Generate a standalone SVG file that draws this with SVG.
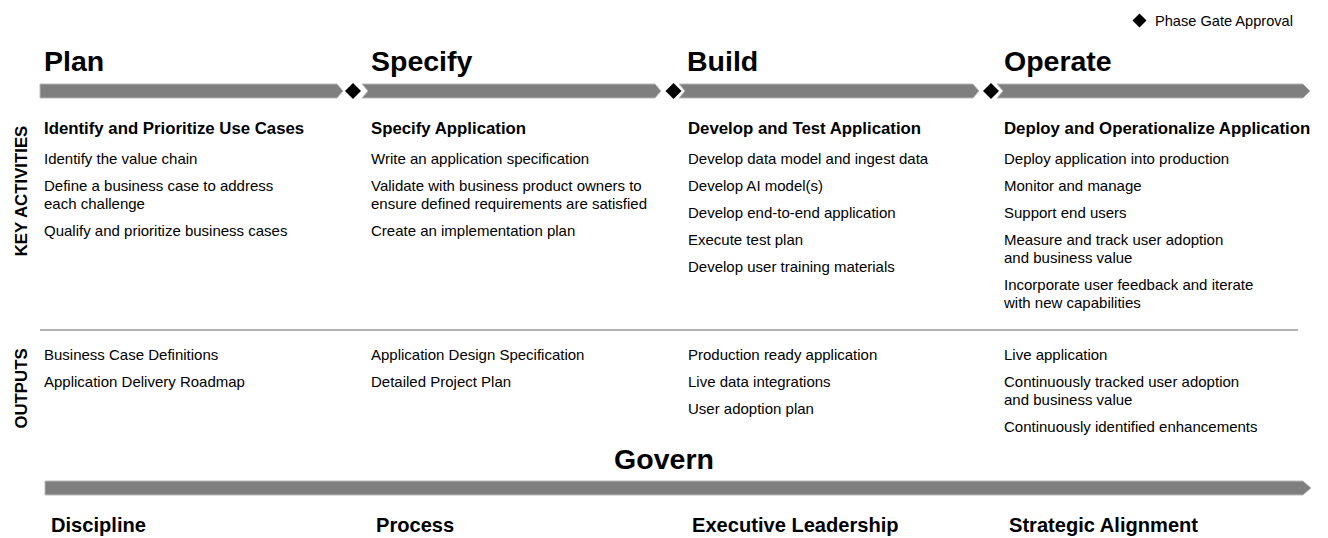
<svg xmlns="http://www.w3.org/2000/svg" width="1328" height="538" viewBox="0 0 1328 538">
<style>
text{font-family:"Liberation Sans",Arial,sans-serif;fill:#000}
.title{font-size:28.5px;font-weight:bold}
.head{font-size:16.8px;font-weight:bold}
.body{font-size:15px}
.side{font-size:16.8px;font-weight:bold}
.pillar{font-size:20.1px;font-weight:bold}
.legend{font-size:14.6px}
.bar{fill:#7f7f7f;stroke:#b8b8b8;stroke-width:1}
.gate{fill:#000}
.sep{stroke:#999;stroke-width:1.5}
</style>
<rect width="1328" height="538" fill="#fff"/>

<g id="legend">
<polygon class="gate" points="1139.5,13.5 1146.5,20.5 1139.5,27.5 1132.5,20.5"/>
<text class="legend" x="1155" y="25.5">Phase Gate Approval</text>
</g>

<g id="connectors">
<polygon class="bar" points="40,84 337,84 343,91 337,98 40,98"/>
<polygon class="bar" points="362,84 655,84 661,91 655,98 362,98 368,91"/>
<polygon class="bar" points="679,84 973,84 979,91 973,98 679,98 685,91"/>
<polygon class="bar" points="997,84 1303,84 1310,91 1303,98 997,98 1003,91"/>
<polygon class="gate" points="353,83 361,91 353,99 345,91"/>
<polygon class="gate" points="673.5,83 681.5,91 673.5,99 665.5,91"/>
<polygon class="gate" points="991,83 999,91 991,99 983,91"/>
<line class="sep" x1="40" y1="330" x2="1298" y2="330"/>
<polygon class="bar" points="45,481 1303,481 1311,488 1303,495 45,495"/>
</g>

<g id="side-labels">
<text class="side" transform="translate(27,191) rotate(-90)" text-anchor="middle">KEY ACTIVITIES</text>
<text class="side" transform="translate(27,388.5) rotate(-90)" text-anchor="middle">OUTPUTS</text>
</g>

<g id="phase-plan">
<text class="title" x="44" y="71">Plan</text>
<text class="head" x="44" y="134">Identify and Prioritize Use Cases</text>
<text class="body" x="44" y="164">Identify the value chain</text>
<text class="body" x="44" y="191">Define a business case to address</text>
<text class="body" x="44" y="209">each challenge</text>
<text class="body" x="44" y="236">Qualify and prioritize business cases</text>
<text class="body" x="44" y="359.5">Business Case Definitions</text>
<text class="body" x="44" y="386.5">Application Delivery Roadmap</text>
</g>

<g id="phase-specify">
<text class="title" x="371" y="71">Specify</text>
<text class="head" x="371" y="134">Specify Application</text>
<text class="body" x="371" y="164">Write an application specification</text>
<text class="body" x="371" y="191">Validate with business product owners to</text>
<text class="body" x="371" y="209">ensure defined requirements are satisfied</text>
<text class="body" x="371" y="236">Create an implementation plan</text>
<text class="body" x="371" y="359.5">Application Design Specification</text>
<text class="body" x="371" y="386.5">Detailed Project Plan</text>
</g>

<g id="phase-build">
<text class="title" x="687" y="71">Build</text>
<text class="head" x="688" y="134">Develop and Test Application</text>
<text class="body" x="688" y="164">Develop data model and ingest data</text>
<text class="body" x="688" y="191">Develop AI model(s)</text>
<text class="body" x="688" y="217.5">Develop end-to-end application</text>
<text class="body" x="688" y="244.5">Execute test plan</text>
<text class="body" x="688" y="271.5">Develop user training materials</text>
<text class="body" x="688" y="359.5">Production ready application</text>
<text class="body" x="688" y="386.5">Live data integrations</text>
<text class="body" x="688" y="413.5">User adoption plan</text>
</g>

<g id="phase-operate">
<text class="title" x="1004" y="71">Operate</text>
<text class="head" x="1004" y="134">Deploy and Operationalize Application</text>
<text class="body" x="1004" y="164">Deploy application into production</text>
<text class="body" x="1004" y="191">Monitor and manage</text>
<text class="body" x="1004" y="217.5">Support end users</text>
<text class="body" x="1004" y="244.5">Measure and track user adoption</text>
<text class="body" x="1004" y="262.5">and business value</text>
<text class="body" x="1004" y="289.5">Incorporate user feedback and iterate</text>
<text class="body" x="1004" y="307.5">with new capabilities</text>
<text class="body" x="1004" y="359.5">Live application</text>
<text class="body" x="1004" y="386.5">Continuously tracked user adoption</text>
<text class="body" x="1004" y="404.5">and business value</text>
<text class="body" x="1004" y="431.5">Continuously identified enhancements</text>
</g>

<g id="govern">
<text class="title" x="664" y="469" text-anchor="middle">Govern</text>
</g>

<g id="pillar-discipline"><text class="pillar" x="51" y="532">Discipline</text></g>
<g id="pillar-process"><text class="pillar" x="376" y="532">Process</text></g>
<g id="pillar-executive"><text class="pillar" x="692" y="532">Executive Leadership</text></g>
<g id="pillar-strategic"><text class="pillar" x="1009" y="532">Strategic Alignment</text></g>
</svg>
